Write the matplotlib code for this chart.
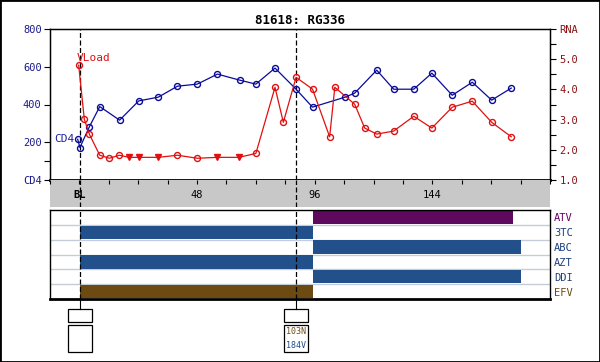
import numpy as np
import matplotlib
matplotlib.use("Agg")
import matplotlib.pyplot as plt
from matplotlib.patches import Rectangle
from matplotlib.transforms import blended_transform_factory

plt.rcParams['font.family'] = 'DejaVu Sans Mono'

title = "81618: RG336"

# CD4 counts (left axis)
cd4_weeks = [-0.7, 0.2, 4.1, 8.3, 16.4, 24.2, 32.2, 40, 48.1, 56.3, 65.4, 72, 79.8, 88.4,
             95.1, 108.4, 112.3, 121.3, 128.2, 136.4, 143.8, 152.1, 160.3, 168.2, 176.2]
cd4_vals = [216, 172, 283, 389, 317, 419, 439, 497, 508, 561, 529, 508, 593, 481,
            386, 439, 460, 582, 481, 481, 566, 449, 518, 423, 487]

# viral load, log10 RNA (right axis); below = under detection limit
vl_weeks = [-0.3, 2.0, 4.1, 8.3, 12.2, 16.3, 20.3, 24.2, 32.2, 40, 48.1, 56.3, 65.1, 72,
            79.8, 83.2, 88.4, 95.1, 102.1, 104.2, 112.3, 116.4, 121.3, 128.2, 136.4,
            143.8, 152.1, 160.3, 168.2, 176.2]
vl_vals = [4.80, 3.01, 2.51, 1.82, 1.72, 1.82, 1.75, 1.75, 1.75, 1.82, 1.72, 1.75, 1.75, 1.88,
           4.07, 2.91, 4.40, 4.01, 2.43, 4.07, 3.51, 2.72, 2.52, 2.62, 3.11,
           2.72, 3.41, 3.61, 2.91, 2.43]
vl_below = [False, False, False, False, False, False, True, True, True, False, False, True, True, False,
            False, False, False, False, False, False, False, False, False, False, False,
            False, False, False, False, False]

x_labels = {0: "BL", 48: "48", 96: "96", 144: "144"}

drugs = ["ATV", "3TC", "ABC", "AZT", "DDI", "EFV"]
drug_start = [95.5, 0.3, 95.5, 0.3, 95.5, 0.3]
drug_stop = [177, 95.5, 180, 95.5, 180, 95.5]
drug_colors = ["#5E085E", "#22508A", "#22508A", "#22508A", "#22508A", "#6C4A12"]
drug_label_colors = ["#660066", "#1F3F7F", "#1F3F7F", "#1F3F7F", "#1F3F7F", "#6C4A12"]

# genotype events
event_weeks = [0.2, 88.4]
event_muts = [[], [("103N", "#6C4A12"), ("184V", "#1F4E8A")]]

W, H = 600, 362
def rect(x0, y0, x1, y1):
    return [x0 / W, 1 - y1 / H, (x1 - x0) / W, (y1 - y0) / H]

fig = plt.figure(figsize=(6, 3.62), dpi=100)
dash = (0, (4, 2))
blue = "#0A0A9A"
red = "#E01010"

# ---- main plot
ax = fig.add_axes(rect(50, 29, 550, 180))
ax2 = ax.twinx()
ax.set_xlim(-12, 192)
ax.set_ylim(0, 800)
ax2.set_ylim(1, 6)
ax.set_xticks([])
for s in ["top", "left", "right"]:
    ax.spines[s].set_linewidth(1)
ax.spines["bottom"].set_linewidth(2)
ax.set_yticks([0, 100, 200, 400, 600, 800])
ax.set_yticklabels(["CD4", "", "200", "400", "600", "800"])
ax.tick_params(axis="y", length=4, width=0.8, labelsize=7.5, labelcolor="#1A1A8A", pad=2)
rt = np.arange(1, 6.01, 0.5)
ax2.set_yticks(rt)
ax2.set_yticklabels(["RNA" if v == 6 else ("%.1f" % v if v == int(v) else "") for v in rt])
ax2.tick_params(axis="y", length=4, width=0.8, labelsize=7.5, labelcolor="#8A1010", pad=3)

for w in event_weeks:
    ax.axvline(w, color="k", ls=dash, lw=0.9, zorder=1)

ax.plot(cd4_weeks, cd4_vals, color=blue, lw=0.9, marker="o", ms=4.3, mfc="none",
        mec=blue, mew=1, zorder=3)
ax2.plot(vl_weeks, vl_vals, color=red, lw=0.9, zorder=3)
vw = np.array(vl_weeks); vv = np.array(vl_vals); vb = np.array(vl_below)
ax2.plot(vw[~vb], vv[~vb], ls="none", marker="o", ms=4.3, mfc="none", mec=red, mew=1, zorder=4)
ax2.plot(vw[vb], vv[vb], ls="none", marker="v", ms=4.5, color=red, zorder=4)
ax.text(-2.0, 216, "CD4", ha="right", va="center", color="#2020A0", fontsize=8)
ax2.text(-1.3, 5.05, "VLoad", ha="left", va="center", color=red, fontsize=8)

# ---- grey time band
band = fig.add_axes(rect(50, 180, 550, 207), facecolor="#C8C8C8")
band.set_xlim(-12, 192)
band.set_ylim(0, 1)
for s in band.spines.values():
    s.set_visible(False)
band.set_yticks([])
band.set_xticks(np.arange(-12, 193, 12))
band.tick_params(axis="x", top=True, bottom=False, labelbottom=False, direction="in",
                 length=3, width=0.8)
for w in event_weeks:
    band.axvline(w, color="k", ls=dash, lw=0.9)
for w, lab in x_labels.items():
    band.text(w, 0.45, lab, ha="center", va="center", fontsize=7.5,
              fontweight="bold" if lab == "BL" else "normal")

# ---- drug panel
dax = fig.add_axes(rect(50, 210, 550, 299))
dax.set_xlim(-12, 192)
dax.set_ylim(len(drugs), 0)
for i in range(1, len(drugs)):
    dax.axhline(i, color="#C4CCDA", lw=1, zorder=0)
rows = np.arange(len(drugs)) + 0.5
dax.barh(rows, np.array(drug_stop) - np.array(drug_start), left=drug_start,
         height=0.9, color=drug_colors, zorder=2)
for w in event_weeks:
    dax.axvline(w, color="k", ls=dash, lw=0.9, zorder=3)
dax.set_xticks([])
dax.yaxis.tick_right()
dax.set_yticks(rows)
dax.set_yticklabels(drugs)
dax.tick_params(axis="y", length=0, pad=3, labelsize=7.5)
for lab, c in zip(dax.get_yticklabels(), drug_label_colors):
    lab.set_color(c)
for s in dax.spines.values():
    s.set_linewidth(1)
dax.spines["bottom"].set_linewidth(2)

# ---- genotype boxes under the drug panel
tr = blended_transform_factory(dax.transData, dax.transAxes)
half = 4.9
for w, muts in zip(event_weeks, event_muts):
    dax.plot([w, w], [0, -0.112], color="k", lw=0.8, transform=tr, clip_on=False)
    dax.add_patch(Rectangle((w - half, -0.258), 2 * half, 0.146, transform=tr,
                            fill=False, ec="k", lw=0.9, clip_on=False))
    dax.add_patch(Rectangle((w - half, -0.596), 2 * half, 0.304, transform=tr,
                            fill=False, ec="k", lw=0.9, clip_on=False))
    for k, (m, c) in enumerate(muts):
        dax.text(w, -0.37 - 0.15 * k, m, transform=tr, ha="center", va="center",
                 fontsize=6, color=c)

fig.text(0.5, 1 - 20 / H, title, ha="center", va="center", fontsize=9, fontweight="bold")
fig.add_artist(Rectangle((0, 0), 1, 1, transform=fig.transFigure, fill=False, ec="k", lw=2))

fig.savefig("out.png", dpi=100)
